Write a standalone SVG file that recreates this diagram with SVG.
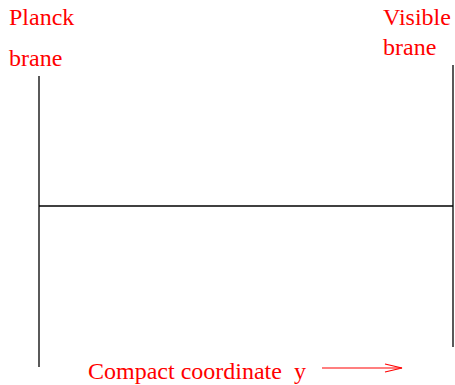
<svg xmlns="http://www.w3.org/2000/svg" width="455" height="385" viewBox="0 0 455 385">
<style>
.lbl{font-family:"Liberation Serif","Times New Roman",serif;font-size:24px;fill:#ff0000}
.ln{stroke:#000;stroke-width:1.3;fill:none}
.ar{stroke:#ff0000;stroke-width:1.2;fill:none}
</style>
<rect width="455" height="385" fill="#fff"/>
<g id="planck-brane">
<line class="ln" x1="39" y1="76" x2="39" y2="367"/>
<text class="lbl" x="9" y="25">Planck</text>
<text class="lbl" x="9" y="66">brane</text>
</g>
<g id="visible-brane">
<line class="ln" x1="453" y1="65" x2="453" y2="347"/>
<text class="lbl" x="383" y="25">Visible</text>
<text class="lbl" x="383" y="55">brane</text>
</g>
<g id="connectors">
<line class="ln" x1="39" y1="206" x2="453" y2="206" stroke="#555"/>
</g>
<g id="axis-label">
<text class="lbl" x="88" y="379">Compact coordinate<tspan x="294">y</tspan></text>
<line class="ar" x1="322" y1="368" x2="402" y2="368"/>
<polyline class="ar" points="385,364 402,368 385,372"/>
</g>
</svg>
